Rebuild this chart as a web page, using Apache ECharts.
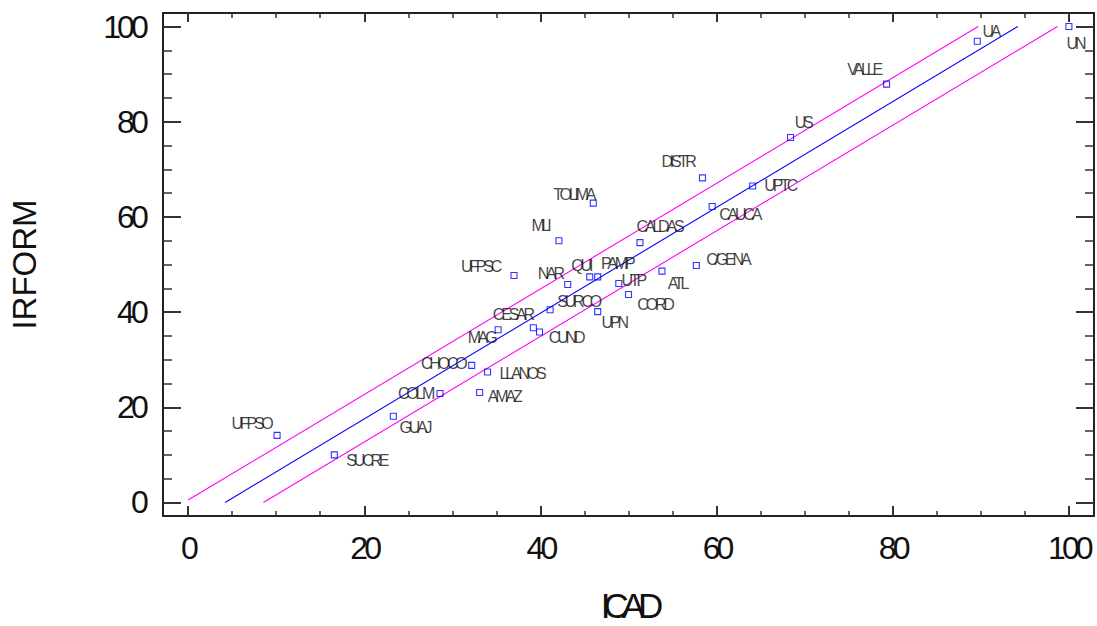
<!DOCTYPE html>
<html>
<head>
<meta charset="utf-8">
<script src="https://cdn.jsdelivr.net/npm/echarts@6/dist/echarts.min.js"></script>
<style>
html,body{margin:0;padding:0;background:#fff;}
#chart{width:1097px;height:626px;}
/* tightly packed lettering like the reference */
#chart text[style*="32px"]{letter-spacing:-0.12em;}
#chart text[style*="35px"]{letter-spacing:-0.2em;}
#chart text[style*="16px"]{letter-spacing:-0.2em;}
</style>
</head>
<body>
<div id="chart"></div>
<script>
// ---- data ----
const names  = ['UFPSO','SUCRE','GUAJ','COL M','CHOCO','AMAZ','LLANOS','MAG','UFPSC','CESAR','CUND','SURCO','MLI','NAR','TOLIMA','QUI','PAMP','UPN','UTP','CORD','CALDAS','ATL','C/GENA','DISTR','CAUCA','UPTC','US','VALLE','UA','UN'];
const icad   = [10.1,16.6,23.3,28.6,32.2,33.1,34.0,35.2,37.0,39.2,39.9,41.1,42.1,43.1,46.0,45.6,46.5,46.5,48.9,50.0,51.3,53.8,57.7,58.4,59.5,64.1,68.4,79.3,89.6,100.0];
const irform = [14.1,10.0,18.1,22.9,28.8,23.1,27.4,36.3,47.7,36.7,35.8,40.5,55.0,45.8,62.9,47.4,47.4,40.1,46.0,43.7,54.6,48.6,49.8,68.2,62.2,66.5,76.7,87.9,96.9,100.0];
// fitted line and prediction limits (end points)
const fitLine   = [[4.2,0],[94.2,100]];
const upperLine = [[0,0.5],[89.7,100]];
const lowerLine = [[8.55,0],[98.7,100]];
const majorTicks = [0,20,40,60,80,100];
const minorTicks = [5,10,15,25,30,35,45,50,55,65,70,75,85,90,95];

// ---- label layout (pixel offsets of each label from its marker) ----
const labelOffsets = [[-26,-12],[32,6],[21,11],[-25,0],[-29,-2],[24,4],[34,1],[-17,8],[-34,-9],[-21,-13],[26,5],[28,-8],[-19,-15],[-18,-11],[-20,-9],[-9,-11],[19,-13],[16,11],[14,-3],[26,10],[19,-16],[15,12],[31,-6],[-25,-16],[27,8],[27,0],[12,-15],[-23,-15],[13,-10],[6,17]];

const FONT = '"Liberation Sans",Arial,sans-serif';
const AX_MIN = -2.85, AX_MAX = 102.85;
const lineCol = '#222';

function xAx(pos, ticks, len, withLabels, withLine){
  return {
    type:'value', position:pos, min:AX_MIN, max:AX_MAX,
    axisLine:{show:withLine, onZero:false, lineStyle:{color:lineCol,width:2}},
    axisTick:{show:true, inside:true, length:len, customValues:ticks, lineStyle:{color:'#333',width:len>6?2:1.5}},
    axisLabel:{show:withLabels, customValues:majorTicks, margin:16, fontSize:32, color:'#111', fontFamily:FONT},
    splitLine:{show:false}
  };
}
function yAx(pos, ticks, len, withLabels, withLine){
  return {
    type:'value', position:pos, min:AX_MIN, max:AX_MAX,
    axisLine:{show:withLine, onZero:false, lineStyle:{color:lineCol,width:2}},
    axisTick:{show:true, inside:true, length:len, customValues:ticks, lineStyle:{color:'#333',width:len>10?2:1.5}},
    axisLabel:{show:withLabels, customValues:majorTicks, margin:18, fontSize:32, color:'#111', fontFamily:FONT},
    splitLine:{show:false}
  };
}

const xAxes = [
  Object.assign(xAx('bottom', majorTicks, 10, true, true), {
    name:'ICAD', nameLocation:'middle', nameGap:72,
    nameTextStyle:{fontSize:35, color:'#111', fontFamily:FONT}
  }),
  xAx('bottom', minorTicks, 5, false, false),
  xAx('top', majorTicks, 9, false, true),
  xAx('top', minorTicks, 5, false, false)
];
const yAxes = [
  Object.assign(yAx('left', majorTicks, 18, true, true), {
    name:'IRFORM', nameLocation:'middle', nameGap:122, nameRotate:90,
    nameTextStyle:{fontSize:33, color:'#111', fontFamily:FONT}
  }),
  yAx('left', minorTicks, 9, false, false),
  yAx('right', majorTicks, 18, false, true),
  yAx('right', minorTicks, 9, false, false)
];

const points = names.map((n,i)=>({
  name:n,
  value:[icad[i], irform[i]],
  label:{offset:labelOffsets[i]}
}));

function lineSeries(data, color){
  return {
    type:'line', data:data, showSymbol:false, symbol:'none', silent:true,
    lineStyle:{color:color, width:1.1}, z:2, animation:false
  };
}

const chart = echarts.init(document.getElementById('chart'), null, {renderer:'svg'});
chart.setOption({
  animation:false,
  backgroundColor:'#fff',
  grid:{left:163, right:3, top:13, bottom:110, containLabel:false, outerBoundsMode:'none'},
  xAxis:xAxes,
  yAxis:yAxes,
  series:[
    lineSeries(upperLine, '#ff00ff'),
    lineSeries(lowerLine, '#ff00ff'),
    lineSeries(fitLine, '#0000ff'),
    {
      type:'scatter', data:points, symbol:'rect', symbolSize:6, z:3,
      itemStyle:{color:'rgba(255,255,255,0)', borderColor:'#0000ff', borderWidth:1.1},
      label:{show:true, position:'inside', formatter:'{b}', fontSize:16, color:'#111',
             fontFamily:FONT, align:'center', verticalAlign:'middle'},
      emphasis:{disabled:true}
    }
  ]
});
</script>
</body>
</html>
